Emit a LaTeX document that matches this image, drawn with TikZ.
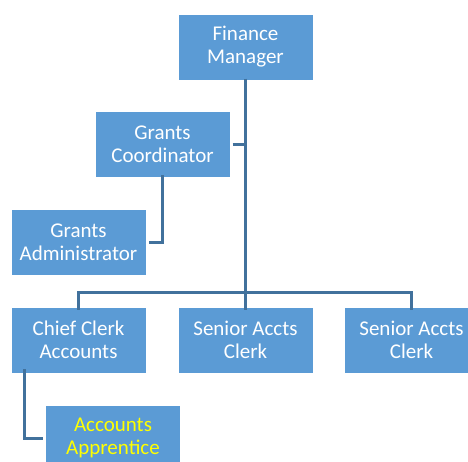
\documentclass[tikz,border=0pt]{standalone}
\usepackage{fontspec}
\setmainfont{Carlito}
\definecolor{boxblue}{HTML}{5B9BD5}
\definecolor{linkblue}{HTML}{41719C}
\definecolor{apyellow}{HTML}{FFFF00}
\begin{document}
\begin{tikzpicture}[x=1pt,y=-1pt,
  orgbox/.style={rectangle,fill=boxblue,draw=white,line width=1pt,
    minimum width=135pt,minimum height=66pt,inner sep=0pt,
    align=center,text=white,font=\fontsize{21}{23}\selectfont},
  link/.style={draw=linkblue,line width=3pt}]
\useasboundingbox (0,0) rectangle (468,461);
\node[orgbox] (fm) at (245.5,47) {Finance\\Manager};
\node[orgbox] (gc) at (162.5,144.5) {Grants\\Coordinator};
\node[orgbox] (ga) at (78.5,242) {Grants\\Administrator};
\node[orgbox] (cc) at (78.5,340) {Chief Clerk\\Accounts};
\node[orgbox] (s1) at (245.5,340) {Senior Accts\\Clerk};
\node[orgbox] (s2) at (411.5,340) {Senior Accts\\Clerk};
\node[orgbox,text=apyellow] (aa) at (113,438) {Accounts\\Apprentice};
\coordinate (bar) at (245.5,292);
\coordinate (ccl) at (24,373);
\begin{scope}[on background layer/.style={}]
\draw[link] ([yshift=2pt]fm.south) -- (bar);
\draw[link] ([xshift=2pt]gc.east) -- (gc.east -| fm.south);
\draw[link] ([yshift=3pt]gc.south) |- ([xshift=2pt]ga.east);
\draw[link] (bar) -| ([yshift=-3pt]cc.north);
\draw[link] (bar) -| ([yshift=-3pt]s2.north);
\draw[link] (bar) -- ([yshift=-3pt]s1.north);
\draw[link] ([yshift=4pt]ccl) |- ([xshift=-2pt]aa.west);
\end{scope}
\end{tikzpicture}
\end{document}
